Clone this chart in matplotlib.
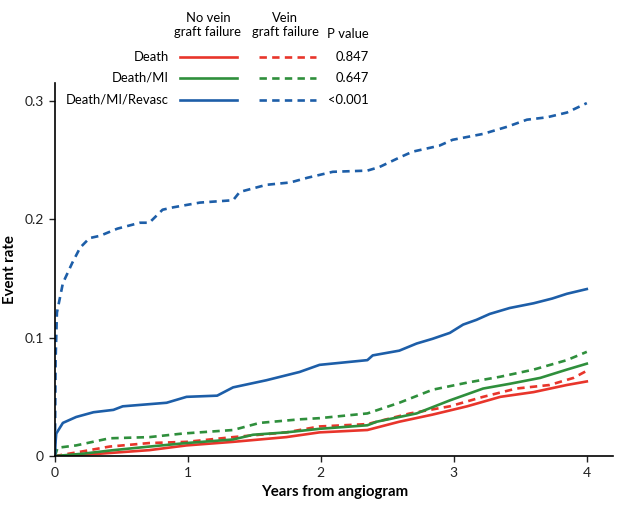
import numpy as np
import matplotlib
matplotlib.use('Agg')
import matplotlib.pyplot as plt
from matplotlib.lines import Line2D

plt.rcParams['font.family'] = ['Lato', 'DejaVu Sans']

RED = '#e8352b'
GREEN = '#2f8f3c'
BLUE = '#1d5ea8'

# --- Kaplan-Meier style curves (years, event rate) ---
blue_vgf_x = [0, 0.005, 0.015, 0.06, 0.13, 0.19, 0.26, 0.34, 0.47, 0.64, 0.71, 0.81, 0.89, 1.09, 1.34,
              1.39, 1.59, 1.77, 1.90, 2.09, 2.35, 2.44, 2.59, 2.69, 2.89, 2.99, 3.22, 3.40, 3.55, 3.70,
              3.85, 4.0]
blue_vgf_y = [0, 0.08, 0.121, 0.146, 0.163, 0.176, 0.184, 0.186, 0.192, 0.197, 0.197, 0.208, 0.210,
              0.214, 0.216, 0.223, 0.229, 0.231, 0.235, 0.240, 0.241, 0.244, 0.252, 0.257, 0.262, 0.267,
              0.272, 0.278, 0.284, 0.286, 0.290, 0.298]

blue_no_x = [0, 0.005, 0.01, 0.06, 0.16, 0.29, 0.44, 0.51, 0.84, 0.99, 1.22, 1.34, 1.59, 1.84, 1.99,
             2.35, 2.39, 2.59, 2.72, 2.84, 2.97, 3.07, 3.17, 3.27, 3.42, 3.60, 3.74, 3.85, 4.0]
blue_no_y = [0, 0.012, 0.019, 0.028, 0.033, 0.037, 0.039, 0.042, 0.045, 0.050, 0.051, 0.058, 0.064,
             0.071, 0.077, 0.081, 0.085, 0.089, 0.095, 0.099, 0.104, 0.111, 0.115, 0.120, 0.125,
             0.129, 0.133, 0.137, 0.141]

green_vgf_x = [0, 0.02, 0.16, 0.41, 0.71, 0.96, 1.34, 1.54, 1.84, 1.99, 2.35, 2.59, 2.84, 3.10, 3.35,
               3.60, 3.85, 4.0]
green_vgf_y = [0, 0.007, 0.009, 0.015, 0.016, 0.019, 0.022, 0.028, 0.031, 0.032, 0.036, 0.045, 0.056,
               0.062, 0.067, 0.073, 0.081, 0.088]

green_no_x = [0, 0.21, 0.44, 0.71, 0.99, 1.34, 1.49, 1.74, 1.99, 2.35, 2.42, 2.72, 2.97, 3.22, 3.42,
              3.65, 3.85, 4.0]
green_no_y = [0, 0.002, 0.005, 0.008, 0.011, 0.014, 0.018, 0.020, 0.023, 0.026, 0.029, 0.036, 0.047,
              0.057, 0.061, 0.066, 0.073, 0.078]

red_vgf_x = [0, 0.21, 0.41, 0.71, 0.99, 1.34, 1.74, 1.99, 2.35, 2.67, 2.97, 3.22, 3.47, 3.72, 3.90, 4.0]
red_vgf_y = [0, 0.004, 0.008, 0.011, 0.012, 0.016, 0.020, 0.025, 0.027, 0.036, 0.042, 0.050, 0.057,
             0.060, 0.066, 0.072]

red_no_x = [0, 0.34, 0.71, 0.99, 1.34, 1.74, 1.99, 2.35, 2.59, 2.84, 3.10, 3.35, 3.60, 3.85, 4.0]
red_no_y = [0, 0.002, 0.005, 0.009, 0.012, 0.016, 0.020, 0.022, 0.029, 0.035, 0.042, 0.050, 0.054,
            0.060, 0.063]

row_labels = ['Death', 'Death/MI', 'Death/MI/Revasc']
p_values = ['0.847', '0.647', '<0.001']
row_colors = [RED, GREEN, BLUE]

LW = 1.9
DASH = (2.8, 2.0)
FS = 9.4

fig = plt.figure(figsize=(6.24, 5.09), dpi=100)
ax = fig.add_axes([0.088, 0.104, 0.895, 0.733])

ax.plot(red_no_x, red_no_y, color=RED, lw=LW)
ax.plot(red_vgf_x, red_vgf_y, color=RED, lw=LW, dashes=DASH)
ax.plot(green_no_x, green_no_y, color=GREEN, lw=LW)
ax.plot(green_vgf_x, green_vgf_y, color=GREEN, lw=LW, dashes=DASH)
ax.plot(blue_no_x, blue_no_y, color=BLUE, lw=LW)
ax.plot(blue_vgf_x, blue_vgf_y, color=BLUE, lw=LW, dashes=DASH)

ax.set_xlim(0, 4.2)
ax.set_ylim(0, 0.315)
ax.set_xticks([0, 1, 2, 3, 4])
ax.set_xticklabels(['0', '1', '2', '3', '4'])
ax.set_yticks([0, 0.1, 0.2, 0.3])
ax.set_yticklabels(['0', '0.1', '0.2', '0.3'])
for s in ['top', 'right']:
    ax.spines[s].set_visible(False)
for s in ['left', 'bottom']:
    ax.spines[s].set_linewidth(1.2)
ax.tick_params(labelsize=10, width=1, length=4, pad=4, colors='#222222')
ax.set_xlabel('Years from angiogram', fontsize=10.8, fontweight='bold', labelpad=4)
ax.set_ylabel('Event rate', fontsize=10.8, fontweight='bold', labelpad=5)

# --- table-style legend at the top ---
W, H = 624, 509
def fx(px):
    return px / W
def fy(py):
    return 1 - py / H

fig.text(fx(208), fy(25), 'No vein\ngraft failure', ha='center', va='center', fontsize=FS,
         linespacing=1.3)
fig.text(fx(285), fy(25), 'Vein\ngraft failure', ha='center', va='center', fontsize=FS,
         linespacing=1.3)
fig.text(fx(369), fy(34), 'P value', ha='right', va='center', fontsize=FS)

row_y = [57, 78, 100]
for lab, pv, col, yy in zip(row_labels, p_values, row_colors, row_y):
    fig.text(fx(169), fy(yy), lab, ha='right', va='center', fontsize=FS)
    fig.text(fx(369), fy(yy), pv, ha='right', va='center', fontsize=FS)
    fig.add_artist(Line2D([fx(180), fx(237)], [fy(yy), fy(yy)], color=col, lw=LW))
    fig.add_artist(Line2D([fx(259), fx(316)], [fy(yy), fy(yy)], color=col, lw=LW, dashes=DASH))

fig.savefig('out.png', dpi=100)
